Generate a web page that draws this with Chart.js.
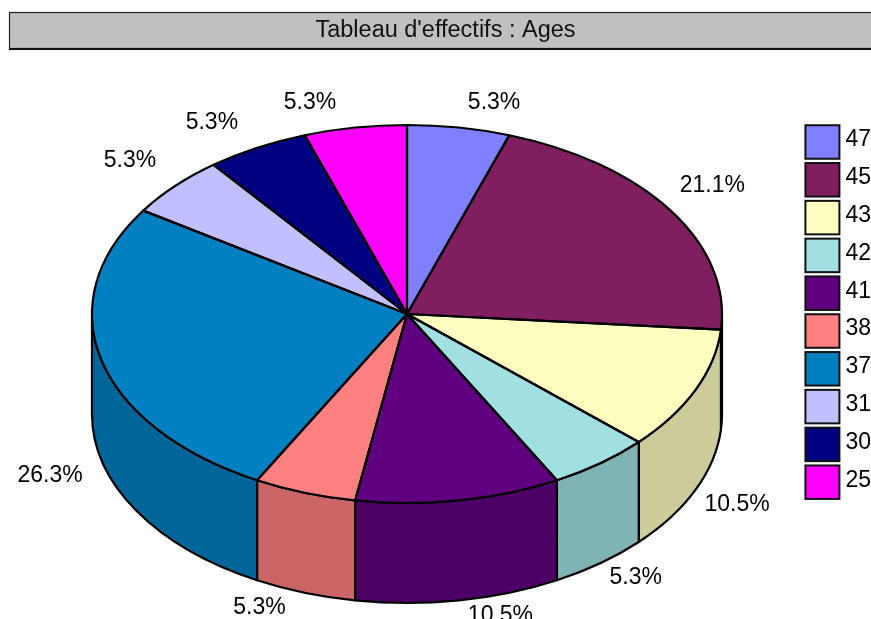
<!DOCTYPE html>
<html>
<head>
<meta charset="utf-8">
<style>html,body{margin:0;padding:0;background:#fff;overflow:hidden}canvas{display:block}</style>
<script src="https://cdn.jsdelivr.net/npm/chart.js@4"></script>
</head>
<body>
<canvas id="c" width="871" height="619"></canvas>
<script>
const chartTitle = "Tableau d'effectifs : Ages";
const categories = ['47','45','43','42','41','38','37','31','30','25'];
const counts = [1,4,2,1,2,1,5,1,1,1];
const topColors = ['#8080FF','#7F1F5F','#FFFFC0','#A0E0E0','#600080','#FF8080','#0080C0','#C0C0FF','#000080','#FF00FF'];
const wallColors = ['#6666CC','#66194C','#CCCC9A','#80B3B3','#4D0066','#CC6666','#006699','#9A9ACC','#000066','#CC00CC'];

const FONT = '"Liberation Sans", Arial, sans-serif';
const PIE = {cx:407, cy:314, rx:315, ry:189, depth:100};
const SWATCH_W = 34, SWATCH_H = 33.5;

function ellipseArc(ctx, a0, a1, dy, ccw){
  ctx.ellipse(PIE.cx, PIE.cy + dy, PIE.rx, PIE.ry, 0, a0, a1, !!ccw);
}

const pie3d = {
  id:'pie3d',
  beforeDraw(chart){
    const ctx = chart.ctx;
    ctx.save();
    ctx.fillStyle = '#C0C0C0';
    ctx.fillRect(9, 12, 880, 37);
    ctx.strokeStyle = '#222';
    ctx.lineWidth = 1.2;
    ctx.strokeRect(9.5, 12.5, 880, 36);
    ctx.fillStyle = '#111';
    ctx.fillRect(9, 48, 880, 2);
    ctx.restore();
  },
  beforeDatasetDraw(chart, args){
    const ctx = chart.ctx;
    const arcs = args.meta.data;
    ctx.save();
    ctx.lineWidth = 2.2;
    ctx.strokeStyle = '#000';
    ctx.lineJoin = 'round';
    arcs.forEach((arc, i) => {
      // wall is visible only for the front half of the disc (canvas angles 0..PI)
      const a0 = Math.max(arc.startAngle, 0);
      const a1 = Math.min(arc.endAngle, Math.PI);
      if (a1 <= a0) return;
      ctx.beginPath();
      ellipseArc(ctx, a0, a1, 0);
      ellipseArc(ctx, a1, a0, PIE.depth, true);
      ctx.closePath();
      ctx.fillStyle = wallColors[i];
      ctx.fill();
      ctx.stroke();
    });
    ctx.restore();
    // squash the library's circular arcs onto the tilted top face
    const first = arcs[0];
    const R = args.meta.controller.outerRadius;
    ctx.save();
    ctx.translate(PIE.cx, PIE.cy);
    ctx.scale(PIE.rx / R, PIE.ry / R);
    ctx.translate(-first.x, -first.y);
  },
  afterDatasetDraw(chart, args){
    const ctx = chart.ctx;
    ctx.restore();
    ctx.save();
    ctx.lineWidth = 2.2;
    ctx.strokeStyle = '#000';
    ctx.lineJoin = 'round';
    args.meta.data.forEach(arc => {
      ctx.beginPath();
      ctx.moveTo(PIE.cx, PIE.cy);
      ellipseArc(ctx, arc.startAngle, arc.endAngle, 0);
      ctx.closePath();
      ctx.stroke();
    });
    ctx.restore();
  },
  afterDraw(chart){
    const ctx = chart.ctx;
    const arcs = chart.getDatasetMeta(0).data;
    const total = counts.reduce((a,b)=>a+b,0);
    ctx.save();
    ctx.font = '23px ' + FONT;
    ctx.fillStyle = '#000';
    ctx.textBaseline = 'middle';
    arcs.forEach((arc, i) => {
      const mid = (arc.startAngle + arc.endAngle) / 2;
      const c = Math.cos(mid), s = Math.sin(mid);
      let x = PIE.cx + PIE.rx * c;
      let y = PIE.cy + PIE.ry * s;
      if (s > 0) y += PIE.depth + 15; else y -= 25;
      if (c >= 0) { ctx.textAlign = 'left'; x += 9; }
      else { ctx.textAlign = 'right'; x -= 19; }
      ctx.fillText((counts[i] / total * 100).toFixed(1) + '%', x, y);
    });
    // legend swatches: the library lays the rows out, the swatch sits left of each label
    ctx.lineWidth = 2;
    ctx.strokeStyle = '#111';
    chart.legend.legendHitBoxes.forEach((box, i) => {
      const sx = box.left - 1;
      const sy = box.top + (box.height - SWATCH_H) / 2 + 2;
      ctx.fillStyle = topColors[i];
      ctx.fillRect(sx, sy, SWATCH_W, SWATCH_H);
      ctx.strokeRect(sx, sy, SWATCH_W, SWATCH_H);
    });
    ctx.restore();
  }
};

new Chart(document.getElementById('c'), {
  type:'pie',
  data:{
    labels:categories,
    datasets:[{data:counts, backgroundColor:topColors, borderWidth:0, clip:false}]
  },
  plugins:[pie3d],
  options:{
    responsive:false,
    animation:false,
    layout:{padding:{left:10, top:0, right:-10, bottom:0}},
    plugins:{
      tooltip:{enabled:false},
      title:{
        display:true,
        text:chartTitle,
        color:'#111',
        font:{family:FONT, size:23.5, weight:'normal'},
        padding:{top:16, bottom:74.5}
      },
      legend:{
        position:'right',
        align:'start',
        fullSize:false,
        labels:{
          boxWidth:27.5,
          boxHeight:33,
          padding:4.8,
          color:'#000',
          font:{family:FONT, size:23},
          generateLabels(){
            return categories.map((t,i)=>({text:t, fillStyle:'rgba(0,0,0,0)', strokeStyle:'rgba(0,0,0,0)', lineWidth:0, index:i}));
          }
        }
      }
    }
  }
});
</script>
</body>
</html>
